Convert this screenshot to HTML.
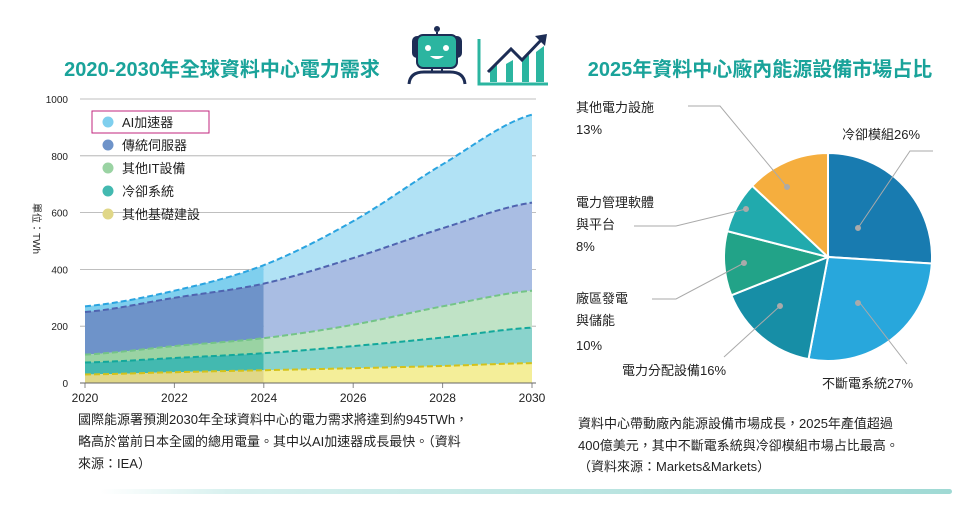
<!DOCTYPE html>
<html><head><meta charset="utf-8"><style>
body{margin:0;background:#fff;width:979px;height:508px;overflow:hidden;font-family:"Liberation Sans","Noto Sans CJK TC",sans-serif;}
svg text{font-family:"Liberation Sans","Noto Sans CJK TC",sans-serif;}
</style></head><body>
<svg id="s" width="979" height="508" xmlns="http://www.w3.org/2000/svg">
<defs><linearGradient id="bar" x1="0" x2="1"><stop offset="0" stop-color="#fff"/><stop offset="0.15" stop-color="#d8f1ef"/><stop offset="1" stop-color="#9fd9d4"/></linearGradient></defs>
<text x="222" y="76" font-size="20" fill="#1aa39a" text-anchor="middle" font-weight="bold">2020-2030年全球資料中心電力需求</text>
<text x="760" y="76" font-size="20" fill="#1aa39a" text-anchor="middle" font-weight="bold">2025年資料中心廠內能源設備市場占比</text>
<!-- robot -->
<g>
<line x1="437" y1="32" x2="437" y2="40" stroke="#1d2d55" stroke-width="2"/><circle cx="437" cy="29" r="3" fill="#1d2d55"/>
<rect x="412" y="36" width="15" height="22" rx="5" fill="#1d2d55"/><rect x="447" y="36" width="15" height="22" rx="5" fill="#1d2d55"/>
<rect x="417" y="35" width="40" height="33" rx="6" fill="#2bb5a0" stroke="#1d2d55" stroke-width="2"/>
<circle cx="428" cy="48" r="3" fill="#fff"/><circle cx="446" cy="48" r="3" fill="#fff"/>
<path d="M430 56 Q437 62 444 56 Z" fill="#fff"/>
<path d="M409 84 Q410 72 424 72 L450 72 Q464 72 465 84" fill="none" stroke="#1d2d55" stroke-width="3"/>
<line x1="432" y1="68" x2="432" y2="73" stroke="#1d2d55" stroke-width="2"/><line x1="442" y1="68" x2="442" y2="73" stroke="#1d2d55" stroke-width="2"/>
</g>
<g>
<path d="M479 39 L479 84 L548 84" fill="none" stroke="#2bb5a0" stroke-width="3"/>
<path d="M490 82 L490 70 L497 65 L497 82Z M506 82 L506 64 L513 60 L513 82Z M522 82 L522 60 L529 55 L529 82Z M536 82 L536 52 L544 46 L544 82Z" fill="#2bb5a0"/>
<path d="M488 72 L511 49 L522 60 L544 37" fill="none" stroke="#1d2d55" stroke-width="3"/>
<path d="M535 36 L547 34 L545 46Z" fill="#1d2d55"/>
</g>
<g id="area"></g>
<g id="pie"></g>
<g font-size="13" fill="#222">
<text x="576" y="112">其他電力設施</text><text x="576" y="134">13%</text>
<text x="842" y="139">冷卻模組26%</text>
<text x="576" y="207">電力管理軟體</text><text x="576" y="229">與平台</text><text x="576" y="251">8%</text>
<text x="576" y="303">廠區發電</text><text x="576" y="325">與儲能</text><text x="576" y="350">10%</text>
<text x="622" y="375">電力分配設備16%</text>
<text x="822" y="388">不斷電系統27%</text>
</g>
<g stroke="#aaa" stroke-width="1" fill="none">
<polyline points="688,106 720,106 787,187"/><circle cx="787" cy="187" r="2.5" fill="#aaa"/>
<polyline points="933,151 910,151 858,228"/><circle cx="858" cy="228" r="2.5" fill="#aaa"/>
<polyline points="634,226 676,226 746,209"/><circle cx="746" cy="209" r="2.5" fill="#aaa"/>
<polyline points="652,299 676,299 744,263"/><circle cx="744" cy="263" r="2.5" fill="#aaa"/>
<polyline points="724,357 780,306"/><circle cx="780" cy="306" r="2.5" fill="#aaa"/>
<polyline points="907,364 860,303"/><circle cx="858" cy="303" r="2.5" fill="#aaa"/>
</g>
<g font-size="13" fill="#222">
<text x="78" y="424">國際能源署預測2030年全球資料中心的電力需求將達到約945TWh，</text>
<text x="78" y="446">略高於當前日本全國的總用電量。其中以AI加速器成長最快。（資料</text>
<text x="78" y="468">來源：IEA）</text>
<text x="578" y="428">資料中心帶動廠內能源設備市場成長，2025年產值超過</text>
<text x="578" y="450">400億美元，其中不斷電系統與冷卻模組市場占比最高。</text>
<text x="578" y="471">（資料來源：Markets&amp;Markets）</text>
</g>
<rect x="100" y="489" width="852" height="5" rx="2.5" fill="url(#bar)"/>
</svg>
<script>
const NS="http://www.w3.org/2000/svg";
function el(p,t,a,txt){const e=document.createElementNS(NS,t);for(const k in a)e.setAttribute(k,a[k]);if(txt!==undefined)e.textContent=txt;p.appendChild(e);return e;}
const A=document.getElementById('area');
const X=y=>85+(y-2020)*(532-85)/10, Y=v=>383-v*0.284;
// grid
for(let v=0;v<=1000;v+=200){el(A,'line',{x1:80,x2:536,y1:Y(v),y2:Y(v),stroke:'#aaa','stroke-width':0.8});
el(A,'text',{x:68,y:Y(v)+4,'font-size':10,'text-anchor':'end',fill:'#222'},v);}
const yrs=[2020,2022,2024,2026,2028,2030];
yrs.forEach(y=>{el(A,'text',{x:X(y),y:402,'font-size':12,'text-anchor':'middle',fill:'#222'},y);
el(A,'line',{x1:X(y),x2:X(y),y1:383,y2:388,stroke:'#888'});});
const S=[
 {d:[270,325,415,570,770,945],c1:'#7fcfee',c2:'#b1e2f5',l:'#2aa4e0'},
 {d:[250,300,350,440,545,635],c1:'#6e93c9',c2:'#a9bde3',l:'#4f64b0'},
 {d:[100,130,158,205,270,325],c1:'#9ad3a3',c2:'#c0e3c6',l:'#74c487'},
 {d:[72,88,105,130,160,195],c1:'#43b9b0',c2:'#8ad3cc',l:'#13a89b'},
 {d:[30,38,45,52,60,70],c1:'#e0d788',c2:'#f4ee99',l:'#d4c21a'}];
// smooth interpolation (monotone-ish catmull)
function interp(d,x){const t=(x-2020)/2;const i=Math.min(4,Math.floor(t));const f=t-i;
const p0=d[Math.max(0,i-1)],p1=d[i],p2=d[i+1],p3=d[Math.min(5,i+2)];
return 0.5*((2*p1)+(-p0+p2)*f+(2*p0-5*p1+4*p2-p3)*f*f+(-p0+3*p1-3*p2+p3)*f*f*f);}
function pts(d,a,b){let r=[];for(let x=a;x<=b+1e-6;x+=0.1)r.push([X(x),Y(interp(d,x))]);return r;}
S.forEach((s,k)=>{const low=k<4?S[k+1].d:null;
[[2020,2024,s.c1],[2024,2030,s.c2]].forEach(([a,b,c])=>{
 const top=pts(s.d,a,b);const bot=low?pts(low,a,b).reverse():[[X(b),383],[X(a),383]];
 el(A,'path',{d:'M'+top.concat(bot).map(p=>p.join(',')).join('L')+'Z',fill:c});});});
S.forEach(s=>{el(A,'path',{d:'M'+pts(s.d,2020,2030).map(p=>p.join(',')).join('L'),fill:'none',stroke:s.l,'stroke-width':2,'stroke-dasharray':'6,3'});});
el(A,'line',{x1:80,x2:536,y1:383,y2:383,stroke:'#666'});
el(A,'text',{x:0,y:0,'font-size':10,fill:'#222',transform:'translate(33,203) rotate(90)'},'單位：TWh');
// legend
el(A,'rect',{x:92,y:111,width:117,height:22,fill:'#fff',stroke:'#c0267e','stroke-width':1});
const L=[['AI加速器','#7fcfee'],['傳統伺服器','#6e93c9'],['其他IT設備','#9ad3a3'],['冷卻系統','#43b9b0'],['其他基礎建設','#e0d788']];
L.forEach((l,i)=>{const y=122+i*23;el(A,'circle',{cx:108,cy:y,r:5.5,fill:l[1]});el(A,'text',{x:122,y:y+5,'font-size':13,fill:'#222'},l[0]);});
// pie
const P=document.getElementById('pie');const cx=828,cy=257,R=104;
const sl=[[26,'#187bb0'],[27,'#28a7dc'],[16,'#178ea6'],[10,'#22a388'],[8,'#21aaad'],[13,'#f5ae3e']];
let a0=0;sl.forEach(([p,c])=>{const a1=a0+p*3.6;const r=v=>(v-90)*Math.PI/180;
const x0=cx+R*Math.cos(r(a0)),y0=cy+R*Math.sin(r(a0)),x1=cx+R*Math.cos(r(a1)),y1=cy+R*Math.sin(r(a1));
el(P,'path',{d:`M${cx},${cy}L${x0},${y0}A${R},${R} 0 ${p>50?1:0} 1 ${x1},${y1}Z`,fill:c,stroke:'#fff','stroke-width':2});a0=a1;});
</script>
</body></html>
